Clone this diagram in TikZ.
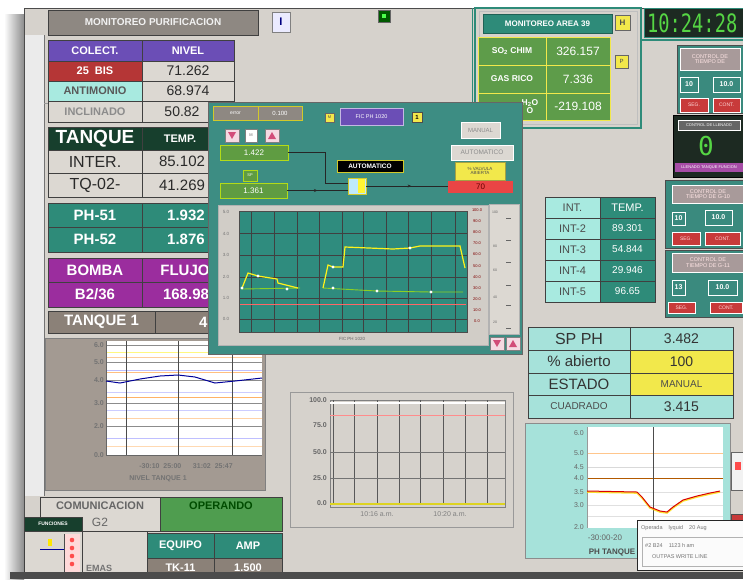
\documentclass[tikz,border=0pt]{standalone}
\usepackage{fontspec}
\setmainfont{Liberation Sans}
\newfontfamily\monof{DejaVu Sans Mono}
\usetikzlibrary{decorations.markings,arrows.meta}
\newcommand\fsz[1]{\fontsize{#1}{#1}\selectfont}
\definecolor{scr}{HTML}{D6D2CC}
\definecolor{ttlgray}{HTML}{8E8882}
\definecolor{purp}{HTML}{6B4EB6}
\definecolor{red25}{HTML}{B53636}
\definecolor{cyanA}{HTML}{A8EAE0}
\definecolor{valg}{HTML}{DCD8D2}
\definecolor{dgreen}{HTML}{173F2D}
\definecolor{tealc}{HTML}{2E8B79}
\definecolor{mag}{HTML}{9B2D9E}
\definecolor{tq1}{HTML}{8B8178}
\definecolor{popt}{HTML}{3D8D83}
\definecolor{cypan}{HTML}{A6E2DA}
\definecolor{ylw}{HTML}{F2E84B}
\definecolor{mgreen}{HTML}{5E9C4A}
\definecolor{opg}{HTML}{4F9D4F}
\definecolor{vgreen}{HTML}{5F9C42}
\definecolor{redb}{HTML}{C83A3A}
\definecolor{outred}{HTML}{EA4545}
\definecolor{chfr}{HTML}{A39A92}
\definecolor{ctlbg}{HTML}{3A8A7E}
\definecolor{ctltl}{HTML}{A89A9A}
\definecolor{blk}{HTML}{1D2A22}
\definecolor{segg}{HTML}{55D544}
\definecolor{dtxt}{HTML}{2A2A2A}
\definecolor{plotg}{HTML}{2F8C7E}
\begin{document}
\begin{tikzpicture}[x=1pt,y=-1pt,
  bx/.style={draw=black!75, line width=0.7pt, anchor=north west, inner sep=0pt, outer sep=0pt, align=center},
  wh/.style 2 args={minimum width=#1pt, minimum height=#2pt},
  lbl/.style={inner sep=0pt, align=center},
  grd/.style={draw=black!70, line width=0.6pt},
  wire/.style={draw=black!85, line width=0.5pt},
  marrow/.style={postaction={decorate}, decoration={markings, mark=at position #1 with {\arrow{Stealth[length=3.5pt,width=3pt]}}}}
]
\useasboundingbox (0,0) rectangle (743,579);
\fill[white] (0,0) rectangle (743,579);
% shadow and screen
\shade[left color=white, right color=black!45] (4,14) rectangle (24,579);
\fill[scr] (24,8) rectangle (743,572);
\draw[black!70, line width=0.8pt] (24,579) -- (24,8) -- (743,8);
\fill[black!8] (25,35) rectangle (44,496);
\draw[black!55, line width=0.6pt] (44,35) -- (44,496);
% top frame of left area
\draw[tealc, line width=1pt] (472,8) -- (472,103);
\draw[black!40, line width=0.6pt] (44,103) -- (472,103);

% ===== left tables
\node[bx, wh={210}{25}, fill=ttlgray, text=white!90!gray, font=\fsz{10}\bfseries] (ttl) at (48,10) {MONITOREO PURIFICACION};
\node[bx, wh={18}{20}, fill=white!92!blue, draw=black!50, text=blue!50!black, font=\fsz{11}\bfseries] (icI) at (272,12) {I};
\node[bx, wh={12}{12}, fill=green!35!black, draw=black!60] (icG) at (378,10) {};
\fill[green!70!white] (382,14) rectangle (386,18);

\node[bx, wh={94}{21}, fill=purp, text=white, font=\fsz{11}\bfseries] (h1a) at (48,40) {COLECT.};
\node[bx, wh={92}{21}, fill=purp, text=white, font=\fsz{11}\bfseries] (h1b) at (142,40) {NIVEL};
\node[bx, wh={94}{20}, fill=red25, text=white, font=\fsz{11}\bfseries] (r1a) at (48,61) {25\ \ BIS};
\node[bx, wh={92}{20}, fill=valg, text=dtxt, font=\fsz{14}] (r1b) at (142,61) {71.262};
\node[bx, wh={94}{20}, fill=cyanA, text=black!65, font=\fsz{11}\bfseries] (r2a) at (48,81) {ANTIMONIO};
\node[bx, wh={92}{20}, fill=valg, text=dtxt, font=\fsz{14}] (r2b) at (142,81) {68.974};
\node[bx, wh={94}{21}, fill=valg, text=black!45, font=\fsz{11}\bfseries] (r3a) at (48,101) {INCLINADO};
\node[bx, wh={92}{21}, fill=valg, text=dtxt, font=\fsz{14}] (r3b) at (142,101) {\hspace*{-12pt}50.82};

\node[bx, wh={94}{23}, fill=dgreen, text=white, font=\fsz{19}\bfseries] (h2a) at (48,127) {TANQUE};
\node[bx, wh={92}{23}, fill=dgreen, text=white, font=\fsz{11}\bfseries] (h2b) at (142,127) {\hspace*{-16pt}TEMP.};
\node[bx, wh={94}{23}, fill=valg, text=dtxt, font=\fsz{16}] (t2a) at (48,150) {INTER.};
\node[bx, wh={92}{23}, fill=valg, text=dtxt, font=\fsz{15}] (t2b) at (142,150) {\hspace*{-12pt}85.102};
\node[bx, wh={94}{24}, fill=valg, text=dtxt, font=\fsz{16}] (t3a) at (48,173) {TQ-02-};
\node[bx, wh={92}{24}, fill=valg, text=dtxt, font=\fsz{15}] (t3b) at (142,173) {\hspace*{-12pt}41.269};

\node[bx, wh={94}{24}, fill=tealc, text=white, font=\fsz{15}\bfseries] (p1a) at (48,203) {PH-51};
\node[bx, wh={92}{24}, fill=tealc, text=white, font=\fsz{15}\bfseries] (p1b) at (142,203) {\hspace*{-4pt}1.932};
\node[bx, wh={94}{25}, fill=tealc, text=white, font=\fsz{15}\bfseries] (p2a) at (48,227) {PH-52};
\node[bx, wh={92}{25}, fill=tealc, text=white, font=\fsz{15}\bfseries] (p2b) at (142,227) {\hspace*{-4pt}1.876};

\node[bx, wh={94}{24}, fill=mag, text=white, font=\fsz{15}\bfseries] (b1a) at (48,258) {BOMBA};
\node[bx, wh={92}{24}, fill=mag, text=white, font=\fsz{15}\bfseries] (b1b) at (142,258) {\hspace*{-6pt}FLUJO};
\node[bx, wh={94}{25}, fill=mag, text=white, font=\fsz{15}\bfseries] (b2a) at (48,282) {B2/36};
\node[bx, wh={92}{25}, fill=mag, text=white, font=\fsz{15}\bfseries] (b2b) at (142,282) {\hspace*{-4pt}168.98};

\node[bx, wh={107}{22}, fill=tq1, text=white, font=\fsz{15}\bfseries] (q1a) at (48,311) {TANQUE 1};
\node[bx, wh={79}{22}, fill=tq1, text=white, font=\fsz{15}\bfseries] (q1b) at (155,311) {\hspace*{30pt}4.3};

% ===== left chart
\node[bx, wh={220}{152}, fill=chfr, draw=black!50] (lch) at (45,338) {};
\fill[white] (106,341) rectangle (262,455);
\foreach \yy/\cc in {352/yellow!50, 357/orange!40, 370/blue!25, 372/orange!50, 392/blue!20, 397/orange!60, 410/blue!20, 418/orange!35, 438/blue!25, 446/orange!30}
  \draw[\cc, line width=0.5pt] (106,\yy) -- (262,\yy);
\foreach \yy in {345,362,380,403,426}
  \draw[black!45, line width=0.5pt] (106,\yy) -- (262,\yy);
\foreach \xx in {126,178,232}
  \draw[black!70, line width=0.7pt] (\xx,341) -- (\xx,455);
\draw[black!60, line width=0.6pt] (106,341) -- (106,455) -- (262,455);
\draw[blue!60!black, line width=1pt] (106,381) -- (120,383) -- (140,379) -- (160,376) -- (178,375) -- (195,377) -- (215,383) -- (235,381) -- (262,378);
\foreach \yy/\tt in {345/6.0,362/5.0,380/4.0,403/3.0,426/2.0,455/0.0}
  \node[lbl, anchor=east, text=black!55, font=\fsz{7}\bfseries] at (104,\yy) {\tt};
\node[lbl, text=black!55, font=\fsz{7}\bfseries] (lx) at (186,466) {-30:10\ \ 25:00\ \ \ \ \ \ 31:02\ \ 25:47};
\node[lbl, text=black!55, font=\fsz{7}\bfseries] (lt) at (158,479) {NIVEL TANQUE 1};

% ===== bottom left
\node[bx, wh={120}{34}, fill=valg] (com) at (40,497) {};
\node[lbl, text=black!60, font=\fsz{11}\bfseries] at (100,506) {COMUNICACION};
\node[lbl, text=black!60, font=\fsz{12}] at (100,522) {G2};
\node[bx, wh={122}{34}, fill=opg] (oper) at (160,497) {};
\node[lbl, text=green!30!black, font=\fsz{11}\bfseries] at (221,506) {OPERANDO};
\node[bx, wh={65}{41}, fill=valg] (emas) at (82,531) {};
\node[lbl, anchor=south west, text=black!55, font=\fsz{9}\bfseries] at (86,572) {EMAS};
\node[bx, wh={58}{14}, fill=dgreen, text=white, font=\fsz{5}\bfseries] (fun) at (24,517) {FUNCIONES};
\node[bx, wh={58}{44}, fill=valg] (funb) at (24,531) {};
\fill[pink!60] (64,534) rectangle (80,572);
\draw[blue!60!black, line width=1pt] (40,549) -- (64,549);
\fill[yellow!90!orange] (48,539) rectangle (52,546);
\draw[black!70, line width=0.7pt] (64,534) -- (64,572);
\foreach \yy in {540,548,556,564} \fill[red!70] (72,\yy) circle (2.3pt);
\node[bx, wh={67}{25}, fill=tealc, text=white, font=\fsz{11}\bfseries] (eq) at (147,533) {EQUIPO};
\node[bx, wh={68}{25}, fill=tealc, text=white, font=\fsz{11}\bfseries] (amp) at (214,533) {AMP};
\node[bx, wh={67}{20}, fill=tq1, text=white, font=\fsz{11}\bfseries] (tk) at (147,558) {\raisebox{-5pt}{TK-11}};
\node[bx, wh={68}{20}, fill=tq1, text=white, font=\fsz{11}\bfseries] (tkv) at (214,558) {\raisebox{-5pt}{1.500}};

% ===== middle bottom chart
\node[bx, wh={223}{135}, fill=scr, draw=black!40] (mch) at (290,392) {};
\draw[black!50, line width=0.6pt] (330,400) rectangle (505,507);
\foreach \xx in {333,354,377,399,420,443,465,487}
  \draw[black!65, line width=0.8pt] (\xx,400) -- (\xx,505);
\foreach \yy in {452,478}
  \draw[black!55, line width=0.7pt] (330,\yy) -- (505,\yy);
\draw[white, line width=1.4pt] (330,403) -- (505,403);
\draw[red!45, line width=0.7pt] (330,415) -- (505,415);
\draw[yellow!85!black, line width=1.4pt] (330,504) -- (505,504);
\foreach \yy/\tt in {400/100.0,425/75.0,452/50.0,478/25.0,503/0.0}
  \node[lbl, anchor=east, text=black!60, font=\fsz{7}\bfseries] at (327,\yy) {\tt};
\node[lbl, text=black!50, font=\fsz{7}] at (377,514) {10:16 a.m.};
\node[lbl, text=black!50, font=\fsz{7}] at (450,514) {10:20 a.m.};

% ===== top-right monitoreo panel
\draw[tealc, line width=1.2pt] (475,8) rectangle (641,128);
\draw[black!25, line width=0.8pt] (479,11) rectangle (637,124);
\node[bx, wh={129}{19}, fill=tealc, draw=tealc!70!black, text=white, font=\fsz{8}\bfseries] (mtt) at (483,14) {MONITOREO AREA 39};
\node[bx, wh={15}{15}, fill=ylw, draw=black!60, text=black!70, font=\fsz{8}\bfseries] (mH) at (615,15) {H};
\node[bx, wh={13}{13}, fill=ylw, draw=black!60, text=black!70, font=\fsz{6}] (mP) at (615,55) {P};
\foreach \rr/\ya/\hh/\la/\va in {0/37/28/SO\textsubscript{2} CHIM/326.157, 1/65/28/GAS RICO/7.336}{
  \node[bx, wh={68}{\hh}, fill=mgreen, draw=ylw, text=white, font=\fsz{8.5}\bfseries] (ma\rr) at (478,\ya) {\la};
  \node[bx, wh={64}{\hh}, fill=mgreen, draw=ylw, text=white, font=\fsz{12}] (mb\rr) at (546,\ya) {\va};
}
\node[bx, wh={68}{27}, fill=mgreen, draw=ylw, text=white, font=\fsz{8.5}\bfseries] (ma2) at (478,93) {\hspace*{36pt}H\textsubscript{2}O\\\hspace*{36pt}O};
\node[bx, wh={64}{27}, fill=mgreen, draw=ylw, text=white, font=\fsz{12}] (mb2) at (546,93) {-219.108};

% clock
\draw[tealc, line width=1.2pt] (641,8) -- (641,40) -- (743,40);
\node[bx, wh={100}{29}, fill=blk, draw=tealc] (clk) at (644,8) {};
\node[lbl, anchor=west, text=segg, font=\monof\fsz{22}] at (647,23) {\scalebox{0.85}[1.15]{10:24:28}};

% control panel 1
\node[bx, wh={68}{68}, fill=ctlbg, draw=black!70] (c1) at (677,45) {};
\node[bx, wh={60}{22}, fill=ctltl, draw=white!60, text=pink!40, font=\fsz{5.5}] (c1t) at (680,48) {CONTROL DE\\TIEMPO DE};
\node[bx, wh={18}{15}, fill=ctlbg, draw=white!80, text=white, font=\fsz{7}\bfseries] (c1a) at (680,77) {10};
\node[bx, wh={27}{15}, fill=ctlbg, draw=white, line width=1pt, text=white, font=\fsz{7}\bfseries] (c1b) at (713,77) {10.0};
\node[bx, wh={28}{14}, fill=redb, draw=white!60, text=pink!60, font=\fsz{5}] (c1c) at (680,98) {SEG.};
\node[bx, wh={27}{14}, fill=redb, draw=white!60, text=pink!60, font=\fsz{5}] (c1d) at (713,98) {CONT.};
% black panel
\node[bx, wh={70}{62}, fill=blk, draw=black] (c2) at (673,115) {};
\node[bx, wh={62}{10}, fill=black!60, draw=white!50, text=white!80, font=\fsz{4}] (c2t) at (678,120) {CONTROL DE LLENADO};
\node[lbl, text=segg, font=\monof\fsz{26}] (c2d) at (706,146) {0};
\node[bx, wh={68}{9}, fill=violet!70, draw=none, text=white!85, font=\fsz{4}] (c2b) at (675,163) {LLENADO TANQUE FUNCION};
% control panel 2
\node[bx, wh={80}{68}, fill=ctlbg, draw=black!70] (c3) at (665,180) {};
\node[bx, wh={72}{18}, fill=ctltl, draw=white!60, text=pink!40, font=\fsz{5.5}] (c3t) at (672,185) {CONTROL DE\\TIEMPO DE G-10};
\node[bx, wh={13}{13}, fill=ctlbg, draw=white!80, text=white, font=\fsz{7}\bfseries] (c3a) at (672,212) {10};
\node[bx, wh={27}{15}, fill=ctlbg, draw=white, line width=1pt, text=white, font=\fsz{7}\bfseries] (c3b) at (705,210) {10.0};
\node[bx, wh={28}{13}, fill=redb, draw=white!60, text=pink!60, font=\fsz{5}] (c3c) at (672,232) {SEG.};
\node[bx, wh={35}{13}, fill=redb, draw=white!60, text=pink!60, font=\fsz{5}] (c3d) at (705,232) {CONT.};
% control panel 3
\node[bx, wh={80}{67}, fill=ctlbg, draw=black!70] (c4) at (665,250) {};
\node[bx, wh={72}{19}, fill=ctltl, draw=white!60, text=pink!40, font=\fsz{5.5}] (c4t) at (672,253) {CONTROL DE\\TIEMPO DE G-11};
\node[bx, wh={13}{15}, fill=ctlbg, draw=white!80, text=white, font=\fsz{7}\bfseries] (c4a) at (672,280) {13};
\node[bx, wh={29}{15}, fill=ctlbg, draw=white, line width=1pt, text=white, font=\fsz{7}\bfseries] (c4b) at (708,280) {10.0};
\node[bx, wh={27}{11}, fill=redb, draw=white!60, text=pink!60, font=\fsz{5}] (c4c) at (668,302) {SEG.};
\node[bx, wh={32}{11}, fill=redb, draw=white!60, text=pink!60, font=\fsz{5}] (c4d) at (710,302) {CONT.};

% ===== INT table
\node[bx, wh={55}{21}, fill=cyanA, text=black!70, font=\fsz{11}] (i0a) at (545,197) {INT.};
\node[bx, wh={55}{21}, fill=tealc, text=white, font=\fsz{11}] (i0b) at (600,197) {TEMP.};
\foreach \rr/\ya/\la/\va in {1/218/INT-2/89.301, 2/239/INT-3/54.844, 3/260/INT-4/29.946, 4/281/INT-5/96.65}{
  \node[bx, wh={55}{21}, fill=cyanA, text=black!70, font=\fsz{11}] (i\rr a) at (545,\ya) {\la};
  \node[bx, wh={55}{21}, fill=tealc, text=white!90, font=\fsz{10}] (i\rr b) at (600,\ya) {\va};
}

% ===== SP PH table
\node[bx, wh={102}{23}, fill=cypan, text=black!80, font=\fsz{16}] (s1a) at (528,327) {SP PH};
\node[bx, wh={103}{23}, fill=cypan, text=black!80, font=\fsz{14}] (s1b) at (630,327) {3.482};
\node[bx, wh={102}{23}, fill=cypan, text=black!80, font=\fsz{15}] (s2a) at (528,350) {\% abierto};
\node[bx, wh={103}{23}, fill=ylw, text=black!80, font=\fsz{14}] (s2b) at (630,350) {100};
\node[bx, wh={102}{22}, fill=cypan, text=black!80, font=\fsz{15}] (s3a) at (528,373) {ESTADO};
\node[bx, wh={103}{22}, fill=ylw, text=black!70, font=\fsz{10}] (s3b) at (630,373) {MANUAL};
\node[bx, wh={102}{23}, fill=cypan, text=black!70, font=\fsz{10}] (s4a) at (528,395) {CUADRADO};
\node[bx, wh={103}{23}, fill=cypan, text=black!80, font=\fsz{14}] (s4b) at (630,395) {3.415};

% ===== PH chart
\node[bx, wh={205}{135}, fill=cypan, draw=black!45] (phc) at (525,423) {};
\fill[white] (587,427) rectangle (723,528);
\draw[orange!45, line width=0.6pt] (587,453) -- (723,453);
\draw[black!15, line width=0.5pt] (587,467) -- (723,467);
\draw[orange!70!black, line width=0.7pt] (587,478) -- (723,478);
\draw[black!12, line width=0.5pt] (587,492) -- (723,492) (587,505) -- (723,505) (587,516) -- (723,516);
\draw[black!70, line width=0.6pt] (653,427) -- (653,528);
\draw[black!40, line width=0.5pt] (587,427) -- (587,528);
\draw[yellow!80!orange, line width=1.6pt, opacity=0.8] (587,492) -- (637,493) -- (642,498) -- (650,508) -- (660,512) -- (667,513) -- (673,508) -- (683,501) -- (697,497) -- (710,494) -- (720,492);
\draw[red!85!black, line width=1pt] (587,491) -- (637,492) -- (642,497) -- (650,507) -- (660,511) -- (667,512) -- (673,507) -- (683,500) -- (697,496) -- (710,493) -- (720,491);
\foreach \yy/\tt in {433/6.0,453/5.0,467/4.5,478/4.0,492/3.5,505/3.0,527/2.0}
  \node[lbl, anchor=east, text=black!60, font=\fsz{7}] at (584,\yy) {\tt};
\node[lbl, text=black!60, font=\fsz{8}] (phx) at (605,538) {-30:00-20};
\node[lbl, text=black!70, font=\fsz{8}\bfseries] (pht) at (612,552) {PH TANQUE};

% right edge bits
\node[bx, wh={14}{38}, fill=white!90!gray, draw=black!60] (rb1) at (731,452) {};
\fill[red!70] (735,462) rectangle (741,470);
\node[bx, wh={14}{12}, fill=redb, draw=black!70] (rb2) at (731,514) {};

% tooltip
\node[bx, wh={108}{50}, fill=white!97!gray, draw=black!85, line width=0.9pt] (tip) at (637,520) {};
\draw[black!30, line width=0.5pt] (642,537) rectangle (743,566);
\node[lbl, anchor=west, text=black!55, font=\fsz{5.5}] at (641,528) {Operada\ \ \ \ lyquid\ \ \ \ 20 Aug};
\node[lbl, anchor=west, text=black!55, font=\fsz{5.5}] at (645,546) {\#2 B24\ \ \ \ 1123 h am};
\node[lbl, anchor=west, text=black!55, font=\fsz{5.5}] at (652,557) {OUTPAS WRITE LINE};

% ===== popup window
\node[bx, wh={314}{252}, fill=popt, draw=black!60, line width=1pt] (pop) at (208,102) {};
\node[bx, wh={45}{14}, fill=ttlgray, draw=yellow!80!black, text=white!85, font=\fsz{5}] (err) at (213,106) {error};
\node[bx, wh={44}{14}, fill=ttlgray, draw=yellow!80!black, text=white!85, font=\fsz{6}] (errv) at (258,106) {0.100};
\node[bx, wh={9}{9}, fill=ylw, draw=black!60, text=black!70, font=\fsz{4}] (ys1) at (325,113) {M};
\node[bx, wh={63}{17}, fill=purp, draw=purp!40, line width=1pt, text=white!85, font=\fsz{5.5}] (fic) at (340,108) {FIC PH 1020};
\node[bx, wh={10}{10}, fill=ylw, draw=black!70, text=black, font=\fsz{6}\bfseries] (ys2) at (412,112) {1};
\node[bx, wh={14}{13}, fill=purple!15, draw=black!50] (bdn) at (225,129) {};
\fill[purple!70] (228,132) -- (236,132) -- (232,139) -- cycle;
\node[bx, wh={12}{13}, fill=white, draw=black!50, text=black!60, font=\fsz{4}] (bm) at (245,129) {M};
\node[bx, wh={14}{13}, fill=purple!15, draw=black!50] (bup) at (265,129) {};
\fill[purple!70] (268,139) -- (276,139) -- (272,132) -- cycle;
\node[bx, wh={68}{15}, fill=vgreen, draw=yellow!70!green, line width=1pt, text=white!90, font=\fsz{8}] (v1) at (220,145) {1.422};
\node[bx, wh={14}{11}, fill=vgreen, draw=yellow!70!green, text=white!80, font=\fsz{4}] (spb) at (243,170) {SP};
\node[bx, wh={67}{15}, fill=vgreen, draw=yellow!70!green, line width=1pt, text=white!90, font=\fsz{8}] (v2) at (220,183) {1.361};
\node[bx, wh={66}{12}, fill=black, draw=yellow!80!black, line width=1pt, text=white, font=\fsz{6.5}\bfseries] (aut1) at (337,160) {AUTOMATICO};
\node[bx, wh={18}{16}, fill=cyan!25, draw=yellow!80!black] (spl) at (348,178) {};
\fill[yellow!80] (358,179) rectangle (365,193);
\node[bx, wh={39}{16}, fill=valg, draw=white, text=black!45, font=\fsz{6}] (man) at (461,122) {MANUAL};
\node[bx, wh={62}{15}, fill=valg, draw=white, text=black!45, font=\fsz{6.5}] (aut2) at (451,145) {AUTOMATICO};
\node[bx, wh={50}{18}, fill=ylw, draw=yellow!60!black, text=black!70, font=\fsz{4.5}] (valv) at (455,162) {\% VALVULA\\ABIERTA};
\node[bx, wh={65}{12}, fill=outred, draw=none, text=red!40!black, font=\fsz{8}] (out) at (448,181) {70};
% wires
\draw[wire] (v1.east) -- (325,152.5) |- ([yshift=3pt]spl.west);
\draw[wire, marrow=0.5] (v2.east) -- (v2.east -| spl.west);
\draw[wire, marrow=0.55] (spl.east) -- (spl.east -| out.west);
% trend chart
\node[bx, wh={270}{140}, fill=valg!95!black, draw=black!30] (tch) at (218,205) {};
\fill[plotg] (239,211) rectangle (467,332);
\foreach \xx in {251,274,297,319,342,363,386,408,431,455}
  \draw[black!75, line width=0.7pt] (\xx,211) -- (\xx,332);
\foreach \yy in {233,255,277,298,319}
  \draw[black!75, line width=0.7pt] (239,\yy) -- (467,\yy);
\draw[black!70, line width=0.6pt] (239,211) rectangle (467,332);
\draw[red!60, line width=1pt] (240,304) -- (466,304);
\draw[yellow!55!green, line width=0.9pt] (242,289) -- (300,288) (323,288) -- (377,291) -- (431,292) -- (463,292);
\draw[yellow!90, line width=1.2pt] (242,288) -- (248,273) -- (258,276) -- (277,279) -- (278,283) -- (298,288);
\draw[yellow!90, line width=1.2pt] (323,288) -- (328,265) -- (333,267) -- (343,267) -- (345,247) -- (393,249) -- (410,248) -- (420,246) -- (460,246) -- (465,268);
\foreach \pp in {(242,288),(258,276),(287,289),(333,288),(333,267),(377,291),(410,248),(431,292)}
  \fill[white] \pp circle (1.6pt);
\foreach \yy/\tt in {212/5.0,234/4.0,255/3.0,277/2.0,298/1.0,319/0.0}
  \node[lbl, text=black!55, font=\fsz{4.5}] at (226,\yy) {\tt};
\foreach \yy/\tt in {210/100.0,221/90.0,232/80.0,243/70.0,254/60.0,266/50.0,277/40.0,288/30.0,299/20.0,310/10.0,321/0.0}
  \node[lbl, text=red!50!black, font=\fsz{4}] at (477,\yy) {\tt};
\node[lbl, text=black!60, font=\fsz{4.5}] (tlab) at (352,339) {FIC PH 1020};
\node[bx, wh={30}{130}, fill=valg, draw=black!30] (scl) at (489,204) {};
\foreach \yy/\tt in {212/100,246/80,270/60,297/40,322/20}
  \node[lbl, text=black!60, font=\fsz{3.5}] at (495,\yy) {\tt};
\foreach \yy in {218,240,262,285,305,328}
  \draw[black!60, line width=0.5pt] (506,\yy) -- (511,\yy);
\node[bx, wh={14}{13}, fill=purple!15, draw=black!50] (sdn) at (490,337) {};
\fill[purple!70] (493,340) -- (501,340) -- (497,347) -- cycle;
\node[bx, wh={14}{13}, fill=purple!15, draw=black!50] (sup) at (506,337) {};
\fill[purple!70] (509,347) -- (517,347) -- (513,340) -- cycle;

% bottom bar
\fill[black!70] (10,572) rectangle (743,579);
\end{tikzpicture}
\end{document}
